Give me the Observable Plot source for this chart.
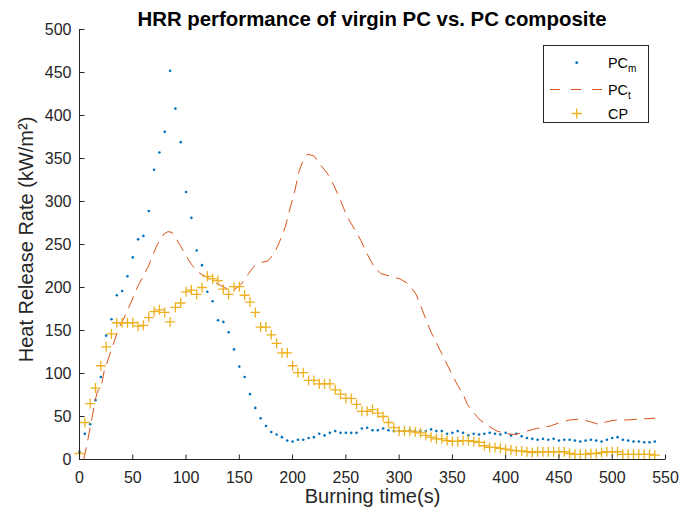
<!DOCTYPE html>
<html>
<head>
<meta charset="utf-8">
<script src="https://cdn.jsdelivr.net/npm/d3@7"></script>
<script src="https://cdn.jsdelivr.net/npm/@observablehq/plot@0.6"></script>
<style>
  body { margin: 0; background: #fff; }
  #wrap { position: relative; width: 681px; height: 515px; font-family: "Liberation Sans", Arial, sans-serif; }
  #title { position: absolute; left: 0; width: 744px; top: 9px; text-align: center; font-weight: bold; font-size: 20.4px; line-height: 20px; color: #000; white-space: nowrap; }
  #legend { position: absolute; left: 543px; top: 45px; }
</style>
</head>
<body>
<div id="wrap">
  <div id="chart"></div>
  <div id="title">HRR performance of virgin PC vs. PC composite</div>
  <svg id="legend" width="107" height="79"></svg>
</div>
<script>
// ---- data ----
const xTicks = [0, 50, 100, 150, 200, 250, 300, 350, 400, 450, 500, 550];
const yTicks = [0, 50, 100, 150, 200, 250, 300, 350, 400, 450, 500];

const seriesNames = ["PC", "PC", "CP"];
const seriesSubs = ["m", "t", ""];
const seriesColors = ["#0072BD", "#D95319", "#EDB120"];

// PC_m (blue dots)
const pcmTime = [0,5,10,15,20,25,30,35,40,45,50,55,60,65,70,75,80,85,90,95,100,105,110,115,120,125,130,135,140,145,150,155,160,165,170,175,180,185,190,195,200,205,210,215,220,225,230,235,240,245,250,255,260,265,270,275,280,285,290,295,300,305,310,315,320,325,330,335,340,345,350,355,360,365,370,375,380,385,390,395,400,405,410,415,420,425,430,435,440,445,450,455,460,465,470,475,480,485,490,495,500,505,510,515,520,525,530,535,540];
const pcmHRR = [9,30,41,69,96,144,163,191,196,213,235,256,260,289,337,357,381,452,408,369,311,281,243,226,195,184,162,160,148,128,108,96,76,60,48,39,32,29,26,22,21,23,23,25,26,30,28,31,33,31,31,31,31,36,37,34,34,36,34,33,33,33,34,33,33,33,35,33,33,30,31,33,31,28,30,29,30,31,30,29,31,28,30,27,25,24,23,24,23,24,22,23,23,22,21,22,23,22,21,23,25,26,23,22,21,21,20,20,21];

// PC_t (dashed line)
const pctTime = [4,8,15,17,20,23,36,45,55,64,73,79,83,87,90,95,100,105,110,115,121,127,136,144,152,158,164,170,177,183,188,193,197,202,206,209,214,220,226,233,239,245,251,258,264,270,276,283,292,301,309,316,322,327,330,340,350,355,360,364,369,375,382,392,400,409,420,429,442,451,460,470,479,487,495,504,514,526,540];
const pctHRR = [0,24,70,80,82,102,150,173,202,223,250,262,265,264,258,248,237,227,219,215,211,206,200,196,204,215,225,229,231,240,254,270,289,312,335,345,355,353,343,332,318,301,283,268,255,239,225,216,213,210,204,192,173,157,148,123,98,86,76,64,56,47,40,33,30,29,33,36,39,43,46,47,44,41,44,46,46,47,48];

// CP (plus markers)
const cpTime = [0,5,10,15,20,25,30,35,40,45,50,55,60,65,70,75,80,85,90,95,100,105,110,115,120,125,130,135,140,145,150,155,160,165,170,175,180,185,190,195,200,205,210,215,220,225,230,235,240,245,250,255,260,265,270,275,280,285,290,295,300,305,310,315,320,325,330,335,340,345,350,355,360,365,370,375,380,385,390,395,400,405,410,415,420,425,430,435,440,445,450,455,460,465,470,475,480,485,490,495,500,505,510,515,520,525,530,535,540];
const cpHRR = [7,43,65,83,109,131,146,159,159,159,159,155,156,165,172,174,171,160,177,182,195,197,192,200,213,210,208,198,192,201,201,191,183,171,154,154,145,135,124,124,109,101,101,92,92,88,88,88,81,76,71,71,64,56,56,58,54,50,43,37,33,33,33,32,31,28,26,24,24,22,21,21,22,22,21,20,16,14,14,13,12,11,10,10,9,8,9,9,9,9,9,9,7,6,6,6,7,7,8,9,9,9,6,6,6,6,6,6,5];

// ---- build tables ----
const pcm = pcmTime.map((t, i) => ({t, v: pcmHRR[i]}));
const pct = pctTime.map((t, i) => ({t, v: pctHRR[i]}));
const cp = cpTime.map((t, i) => ({t, v: cpHRR[i]}));

const axisColor = "#262626";
const tickUp = {draw(ctx) { ctx.moveTo(0, 0); ctx.lineTo(0, -5); }};
const tickRight = {draw(ctx) { ctx.moveTo(0, 0); ctx.lineTo(5, 0); }};
const plusSym = {draw(ctx, size) { const r = Math.sqrt(size / Math.PI); ctx.moveTo(-r, 0); ctx.lineTo(r, 0); ctx.moveTo(0, -r); ctx.lineTo(0, r); }};

const chart = Plot.plot({
  width: 681,
  height: 515,
  marginLeft: 79,
  marginRight: 16,
  marginTop: 29,
  marginBottom: 56,
  style: {fontFamily: "'Liberation Sans', Arial, sans-serif", fontSize: "16px", color: axisColor, background: "#fff", overflow: "visible"},
  x: {domain: [0, 550]},
  y: {domain: [0, 500]},
  marks: [
    Plot.dot(pcm, {x: "t", y: "v", r: 1.3, fill: seriesColors[0], stroke: "none"}),
    Plot.line(pct, {x: "t", y: "v", stroke: seriesColors[1], strokeWidth: 1, strokeDasharray: "12,8"}),
    Plot.dot(cp, {x: "t", y: "v", r: 5, symbol: plusSym, fill: "none", stroke: seriesColors[2], strokeWidth: 1.3}),
    Plot.ruleX([0], {stroke: axisColor}),
    Plot.ruleY([0], {stroke: axisColor}),
    Plot.dot(xTicks, {x: d => d, frameAnchor: "bottom", symbol: tickUp, fill: "none", stroke: axisColor, strokeWidth: 1}),
    Plot.dot(yTicks, {y: d => d, frameAnchor: "left", symbol: tickRight, fill: "none", stroke: axisColor, strokeWidth: 1}),
    Plot.axisX({ticks: xTicks, tickSize: 0, tickPadding: 12, label: null, fontSize: 16}),
    Plot.axisY({ticks: yTicks, tickSize: 0, tickPadding: 8, label: null, fontSize: 16}),
    Plot.text(["Burning time(s)"], {text: d => d, frameAnchor: "bottom", dy: 43, fontSize: 20, fill: axisColor}),
    Plot.text(["Heat Release Rate (kW/m²)"], {text: d => d, frameAnchor: "left", textAnchor: "middle", dx: -53, dy: -5, rotate: -90, fontSize: 20, fill: axisColor})
  ]
});
document.getElementById("chart").appendChild(chart);

// ---- legend ----
const leg = d3.select("#legend");
leg.append("rect").attr("x", 0.5).attr("y", 0.5).attr("width", 105).attr("height", 77)
  .attr("fill", "#fff").attr("stroke", axisColor).attr("stroke-width", 1);
const rowsY = [17.7, 44.5, 68.5];
leg.append("circle").attr("cx", 33.7).attr("cy", rowsY[0]).attr("r", 1.4).attr("fill", seriesColors[0]);
leg.append("line").attr("x1", 7).attr("x2", 59).attr("y1", rowsY[1]).attr("y2", rowsY[1])
  .attr("stroke", seriesColors[1]).attr("stroke-dasharray", "10,11");
leg.append("path").attr("d", `M28.7,${rowsY[2]}h10M33.7,${rowsY[2] - 5}v10`)
  .attr("stroke", seriesColors[2]).attr("stroke-width", 1.3).attr("fill", "none");
seriesNames.forEach((name, i) => {
  const t = leg.append("text").attr("x", 65).attr("y", rowsY[i] + 5)
    .attr("font-family", "'Liberation Sans', Arial, sans-serif").attr("font-size", 14.4).attr("fill", "#000")
    .text(name);
  if (seriesSubs[i]) t.append("tspan").attr("font-size", 10).attr("dy", 4).text(seriesSubs[i]);
});
</script>
</body>
</html>
